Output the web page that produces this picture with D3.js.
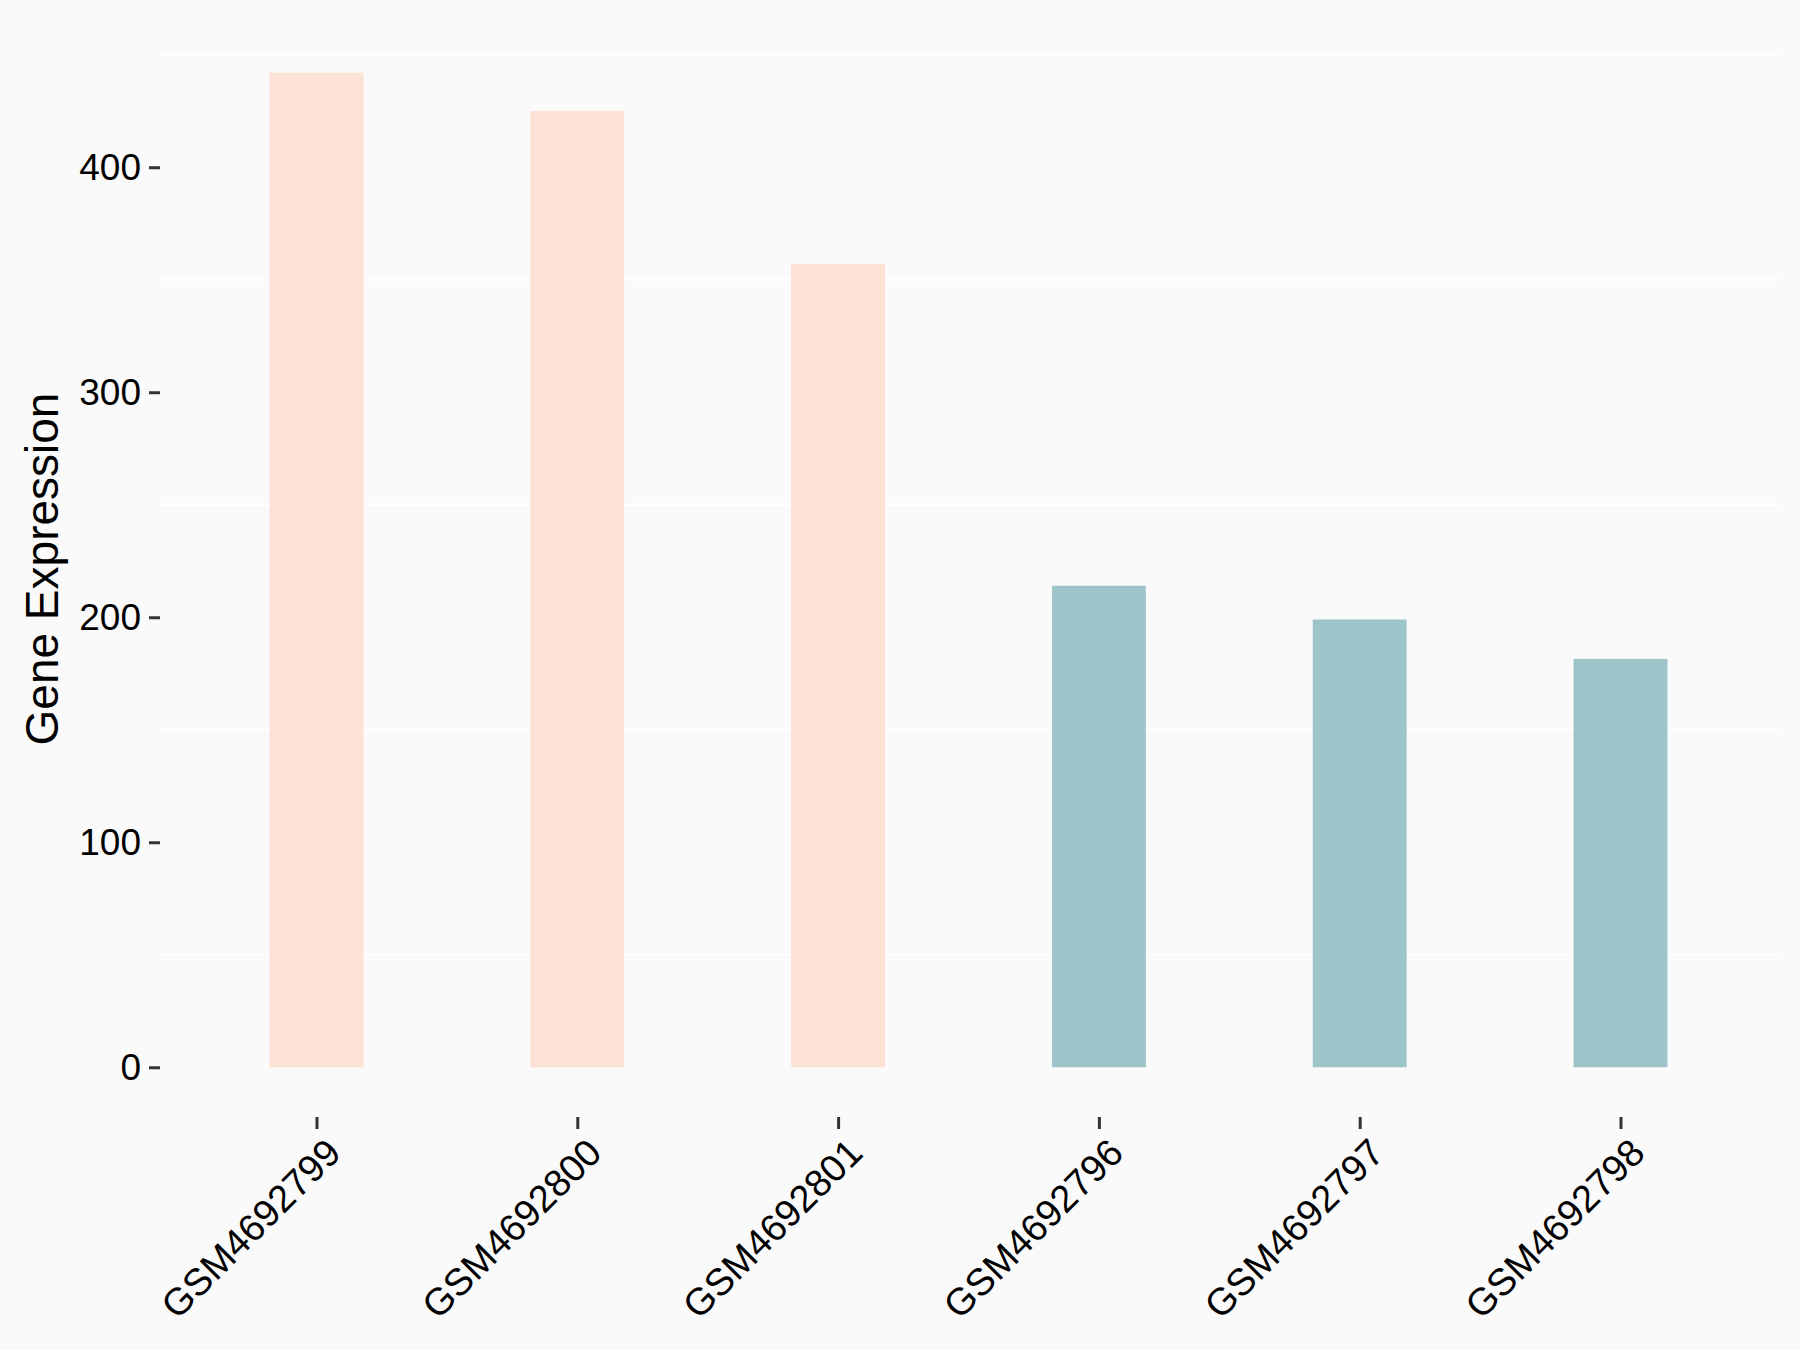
<!DOCTYPE html>
<html>
<head>
<meta charset="utf-8">
<script src="https://cdn.jsdelivr.net/npm/d3@7"></script>
<style>
  html, body { margin: 0; padding: 0; background: #fafafa; }
  text { font-family: "Liberation Sans", Arial, sans-serif; }
</style>
</head>
<body>
<svg id="chart" width="1800" height="1350"></svg>
<script>
const samples = ["GSM4692799", "GSM4692800", "GSM4692801", "GSM4692796", "GSM4692797", "GSM4692798"];
const expression = [442, 425, 357, 214, 199, 181.5];
const groups = ["A", "A", "A", "B", "B", "B"];
const groupColors = { A: "#fde1d7", B: "#9dc4c8" };
const yTicks = [0, 100, 200, 300, 400];
const yMinor = [50, 150, 250, 350, 450];

const W = 1800, H = 1350;
const panel = { left: 160, right: 1777, top: 23, bottom: 1117 };
const svg = d3.select("#chart");
svg.append("rect").attr("width", W).attr("height", H).attr("fill", "#fafafa");

const maxV = d3.max(expression);
const pad = maxV * 0.05;
const y = d3.scaleLinear().domain([-pad, maxV + pad]).range([panel.bottom, panel.top]);

const nb = samples.length;
const unit = (panel.right - panel.left) / (nb - 1 + 1.2);
const x = d3.scalePoint().domain(samples).range([panel.left + 0.6 * unit, panel.right - 0.6 * unit]);
const barW = 0.36 * unit;

// minor gridlines
svg.append("g").selectAll("line").data(yMinor).join("line")
  .attr("x1", panel.left).attr("x2", panel.right)
  .attr("y1", d => y(d)).attr("y2", d => y(d))
  .attr("stroke", "#ffffff").attr("stroke-width", 2);

// bars
svg.append("g").selectAll("rect").data(samples).join("rect")
  .attr("x", d => x(d) - barW / 2)
  .attr("width", barW)
  .attr("y", (d, i) => y(expression[i]))
  .attr("height", (d, i) => y(0) - y(expression[i]))
  .attr("fill", (d, i) => groupColors[groups[i]]);

// y axis
const yAxis = d3.axisLeft(y).tickValues(yTicks).tickSize(11).tickPadding(8).tickFormat(d3.format("d"));
const gy = svg.append("g").attr("transform", `translate(${panel.left},0)`).call(yAxis);
gy.select(".domain").remove();
gy.selectAll(".tick line").attr("stroke", "#333333").attr("stroke-width", 3);
gy.selectAll(".tick text").attr("font-size", 37).attr("fill", "#000").attr("font-family", "Liberation Sans, Arial, sans-serif");

// x axis
const xAxis = d3.axisBottom(x).tickSize(12).tickPadding(0);
const gx = svg.append("g").attr("transform", `translate(0,${panel.bottom})`).call(xAxis);
gx.select(".domain").remove();
gx.selectAll(".tick line").attr("stroke", "#333333").attr("stroke-width", 3);
gx.selectAll(".tick text")
  .attr("font-size", 38).attr("fill", "#000").attr("font-family", "Liberation Sans, Arial, sans-serif")
  .attr("text-anchor", "end")
  .attr("dy", null).attr("y", null)
  .attr("transform", "translate(26,38) rotate(-45)");

// y title
svg.append("text")
  .attr("transform", `translate(58,${(y(0) + y(450)) / 2 + 8}) rotate(-90)`)
  .attr("text-anchor", "middle")
  .attr("font-size", 46)
  .attr("fill", "#000")
  .text("Gene Expression");
</script>
</body>
</html>
